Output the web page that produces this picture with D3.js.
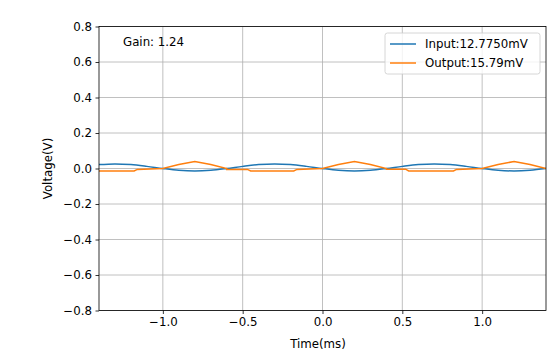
<!DOCTYPE html>
<html><head><meta charset="utf-8">
<script src="https://cdn.jsdelivr.net/npm/d3@7"></script>
<style>body{margin:0;background:#fff}svg{display:block}text{font-family:"DejaVu Sans",sans-serif}</style>
</head><body><svg id="c" width="549" height="355"></svg>
<script>
const xTicks = [-1.0, -0.5, 0.0, 0.5, 1.0];
const yTicks = [-0.8, -0.6, -0.4, -0.2, 0.0, 0.2, 0.4, 0.6, 0.8];
const inputTime = [-1.4,-1.3,-1.2,-1.1,-1.0,-0.9,-0.8,-0.7,-0.6,-0.5,-0.4,-0.3,-0.2,-0.1,0.0,0.1,0.2,0.3,0.4,0.5,0.6,0.7,0.8,0.9,1.0,1.1,1.2,1.3,1.4];
const inputVolt = [0.022,0.026,0.022,0.012,0.0,-0.010,-0.014,-0.010,0.0,0.012,0.022,0.026,0.022,0.012,0.0,-0.010,-0.014,-0.010,0.0,0.012,0.022,0.026,0.022,0.012,0.0,-0.010,-0.014,-0.010,0.0];
const outputTime = [-1.4,-1.18,-1.16,-1.0,-0.9,-0.8,-0.7,-0.6,-0.6,-0.47,-0.45,-0.18,-0.16,0.0,0.1,0.2,0.3,0.4,0.4,0.52,0.54,0.82,0.84,1.0,1.1,1.2,1.3,1.4];
const outputVolt = [-0.014,-0.014,-0.005,0.0,0.022,0.040,0.022,0.0,-0.005,-0.005,-0.014,-0.014,-0.005,0.0,0.022,0.040,0.022,0.0,-0.004,-0.004,-0.014,-0.014,-0.005,0.0,0.022,0.040,0.022,0.0];
const seriesNames = ["Input:12.7750mV", "Output:15.79mV"];
const gainText = "Gain: 1.24";

const FS = 11.8;
const svg = d3.select("#c");
const L = 99, R = 546, T = 26.5, B = 310.5;
const x = d3.scaleLinear().domain([-1.4, 1.4]).range([L, R]);
const y = d3.scaleLinear().domain([-0.8, 0.8]).range([B, T]);
const fmt = d => d3.format(".1f")(d).replace("-", "\u2212");

// grid
const g = svg.append("g");
g.selectAll(".gx").data(xTicks).enter().append("line")
  .attr("x1", d => x(d)).attr("x2", d => x(d)).attr("y1", T).attr("y2", B)
  .attr("stroke", "#b0b0b0").attr("stroke-width", 0.8);
g.selectAll(".gy").data(yTicks).enter().append("line")
  .attr("y1", d => y(d)).attr("y2", d => y(d)).attr("x1", L).attr("x2", R)
  .attr("stroke", "#b0b0b0").attr("stroke-width", 0.8);

// lines
svg.append("clipPath").attr("id", "cp").append("rect")
  .attr("x", L).attr("y", T).attr("width", R - L).attr("height", B - T);
const inData = inputTime.map((t, i) => [t, inputVolt[i]]);
const outData = outputTime.map((t, i) => [t, outputVolt[i]]);
svg.append("path").datum(inData).attr("clip-path", "url(#cp)")
  .attr("d", d3.line().x(d => x(d[0])).y(d => y(d[1])).curve(d3.curveMonotoneX))
  .attr("fill", "none").attr("stroke", "#1f77b4").attr("stroke-width", 1.5);
svg.append("path").datum(outData).attr("clip-path", "url(#cp)")
  .attr("d", d3.line().x(d => x(d[0])).y(d => y(d[1])))
  .attr("fill", "none").attr("stroke", "#ff7f0e").attr("stroke-width", 1.5);

// axes
const xa = svg.append("g").attr("transform", `translate(0,${B})`)
  .call(d3.axisBottom(x).tickValues(xTicks).tickFormat(fmt).tickSizeOuter(0).tickSize(3.5).tickPadding(3.5));
const ya = svg.append("g").attr("transform", `translate(${L},0)`)
  .call(d3.axisLeft(y).tickValues(yTicks).tickFormat(fmt).tickSizeOuter(0).tickSize(3.5).tickPadding(3.5));
[xa, ya].forEach(a => {
  a.select(".domain").remove();
  a.selectAll("text").attr("font-size", FS).attr("fill", "#000").attr("font-family", "DejaVu Sans");
  a.selectAll("line").attr("stroke", "#000").attr("stroke-width", 0.8);
});
svg.append("rect").attr("x", L).attr("y", T).attr("width", R - L).attr("height", B - T)
  .attr("fill", "none").attr("stroke", "#000").attr("stroke-width", 0.8);

svg.append("text").attr("x", 318).attr("y", 348).attr("text-anchor", "middle")
  .attr("font-size", FS).text("Time(ms)");
svg.append("text").attr("transform", `translate(52,${(T + B) / 2}) rotate(-90)`)
  .attr("text-anchor", "middle").attr("font-size", FS).text("Voltage(V)");
svg.append("text").attr("x", 123).attr("y", 46).attr("font-size", FS).text(gainText);

// legend
const lg = svg.append("g");
lg.append("rect").attr("x", 385).attr("y", 33).attr("width", 155).attr("height", 41)
  .attr("rx", 2.5).attr("fill", "#fff").attr("fill-opacity", 0.8).attr("stroke", "#cccccc").attr("stroke-width", 0.8);
const colors = ["#1f77b4", "#ff7f0e"];
seriesNames.forEach((n, i) => {
  const yy = 44 + i * 19;
  lg.append("line").attr("x1", 390).attr("x2", 416).attr("y1", yy).attr("y2", yy)
    .attr("stroke", colors[i]).attr("stroke-width", 1.5);
  lg.append("text").attr("x", 425).attr("y", yy + 4).attr("font-size", FS).text(n);
});
</script></body></html>
